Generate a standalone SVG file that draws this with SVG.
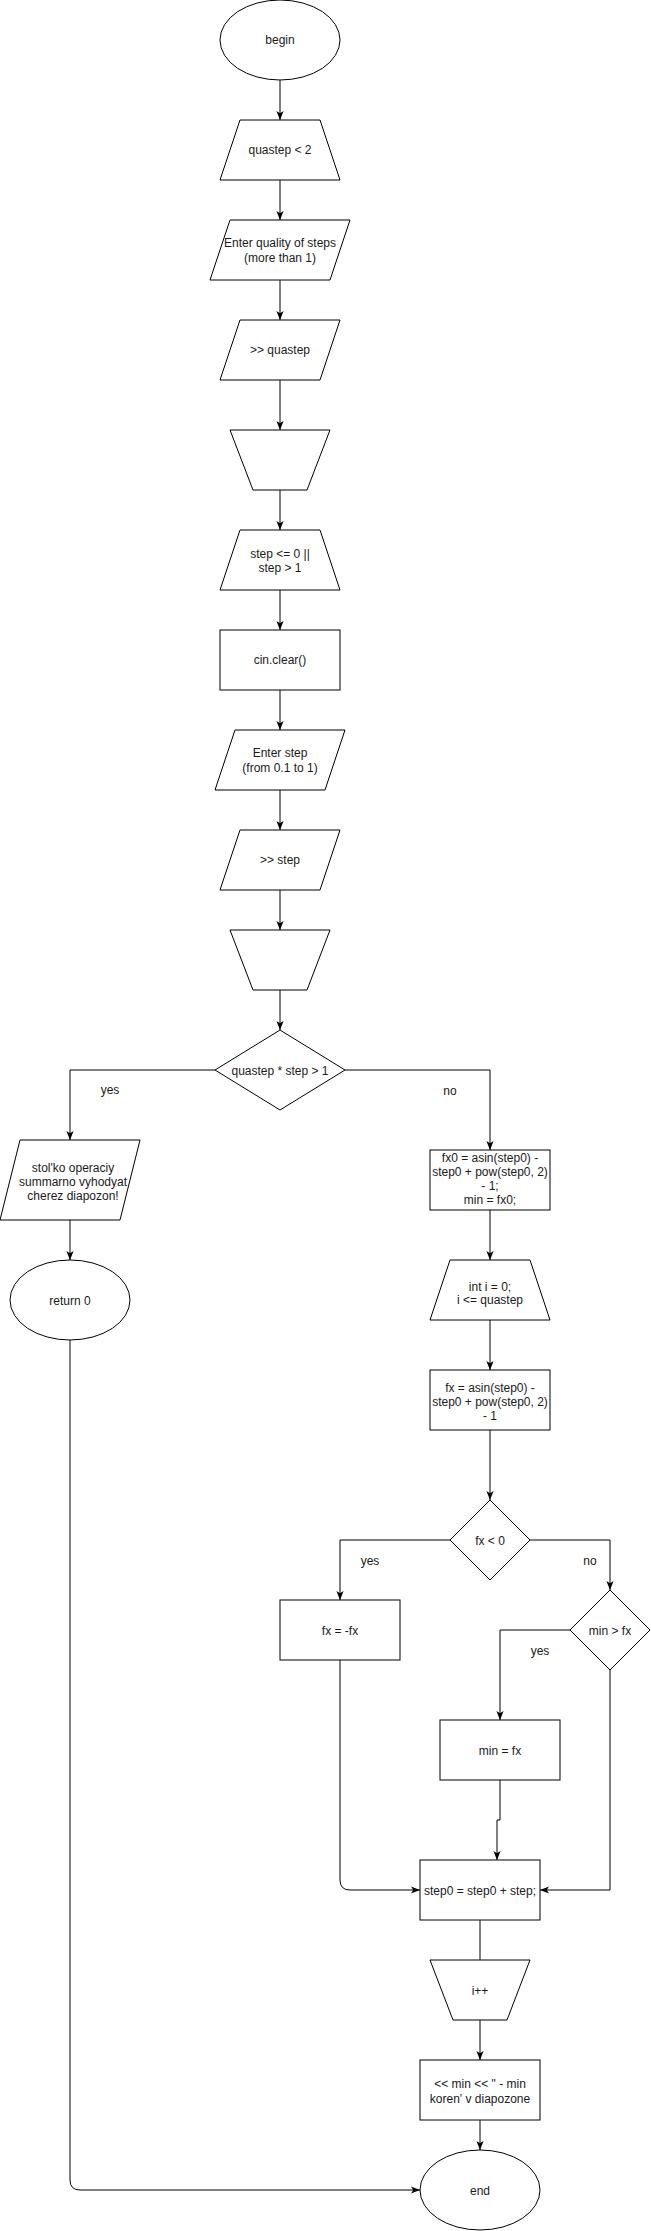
<svg xmlns="http://www.w3.org/2000/svg" width="651" height="2231" viewBox="0 0 651 2231">
<style>
.s{fill:#fff;stroke:#000;stroke-width:1}
.t{font-family:"Liberation Sans",Arial,sans-serif;font-size:12px;fill:#1a1a1a;text-anchor:middle}
.e{fill:none;stroke:#000;stroke-width:1}
</style>
<defs>
<marker id="a" markerUnits="userSpaceOnUse" viewBox="0 0 10 10" markerWidth="9" markerHeight="9" refX="10" refY="5" orient="auto">
<path d="M0,1 L10,5 L0,9 L2.5,5 Z" fill="#000"/>
</marker>
</defs>
<rect width="651" height="2231" fill="#fff"/>
<g id="connectors">
<path class="e" d="M280,80V120" marker-end="url(#a)"/>
<path class="e" d="M280,180V220" marker-end="url(#a)"/>
<path class="e" d="M280,280V320" marker-end="url(#a)"/>
<path class="e" d="M280,380V430" marker-end="url(#a)"/>
<path class="e" d="M280,490V530" marker-end="url(#a)"/>
<path class="e" d="M280,590V630" marker-end="url(#a)"/>
<path class="e" d="M280,690V730" marker-end="url(#a)"/>
<path class="e" d="M280,790V830" marker-end="url(#a)"/>
<path class="e" d="M280,890V930" marker-end="url(#a)"/>
<path class="e" d="M280,990V1030" marker-end="url(#a)"/>
<path class="e" d="M215,1070H70V1140" marker-end="url(#a)"/>
<path class="e" d="M345,1070H490V1150" marker-end="url(#a)"/>
<path class="e" d="M70,1220V1260" marker-end="url(#a)"/>
<path class="e" d="M70,1340V2180Q70,2190 80,2190H420" marker-end="url(#a)"/>
<path class="e" d="M490,1210V1260" marker-end="url(#a)"/>
<path class="e" d="M490,1320V1370" marker-end="url(#a)"/>
<path class="e" d="M490,1430V1500" marker-end="url(#a)"/>
<path class="e" d="M450,1540H340V1600" marker-end="url(#a)"/>
<path class="e" d="M530,1540H610V1590" marker-end="url(#a)"/>
<path class="e" d="M570,1630H500V1720" marker-end="url(#a)"/>
<path class="e" d="M340,1660V1880Q340,1890 350,1890H420" marker-end="url(#a)"/>
<path class="e" d="M500,1780V1820H497V1860" marker-end="url(#a)"/>
<path class="e" d="M610,1670V1890H540" marker-end="url(#a)"/>
<path class="e" d="M480,1920V1960"/>
<path class="e" d="M480,2020V2060" marker-end="url(#a)"/>
<path class="e" d="M480,2120V2150" marker-end="url(#a)"/>
<text class="t" x="110" y="1094">yes</text>
<text class="t" x="450" y="1095">no</text>
<text class="t" x="370" y="1565">yes</text>
<text class="t" x="590" y="1565">no</text>
<text class="t" x="540" y="1655">yes</text>
</g>
<g id="begin"><ellipse class="s" cx="280" cy="40" rx="60" ry="40"/><text class="t" x="280" y="44">begin</text></g>
<g id="loop1"><polygon class="s" points="240,120 320,120 340,180 220,180"/><text class="t" x="280" y="154">quastep &lt; 2</text></g>
<g id="prompt1"><polygon class="s" points="230,220 350,220 330,280 210,280"/><text class="t" x="280" y="247">Enter quality of steps</text><text class="t" x="280" y="262">(more than 1)</text></g>
<g id="input1"><polygon class="s" points="240,320 340,320 320,380 220,380"/><text class="t" x="280" y="354">&gt;&gt; quastep</text></g>
<g id="loopend1"><polygon class="s" points="230,430 330,430 307,490 253,490"/></g>
<g id="loop2"><polygon class="s" points="240,530 320,530 340,590 220,590"/><text class="t" x="280" y="558">step &lt;= 0 ||</text><text class="t" x="280" y="572">step &gt; 1</text></g>
<g id="clear"><rect class="s" x="220" y="630" width="120" height="60"/><text class="t" x="280" y="664">cin.clear()</text></g>
<g id="prompt2"><polygon class="s" points="235,730 345,730 325,790 215,790"/><text class="t" x="280" y="757">Enter step</text><text class="t" x="280" y="772">(from 0.1 to 1)</text></g>
<g id="input2"><polygon class="s" points="240,830 340,830 320,890 220,890"/><text class="t" x="280" y="864">&gt;&gt; step</text></g>
<g id="loopend2"><polygon class="s" points="230,930 330,930 307,990 253,990"/></g>
<g id="check"><polygon class="s" points="280,1030 345,1070 280,1110 215,1070"/><text class="t" x="280" y="1075">quastep * step &gt; 1</text></g>
<g id="error"><polygon class="s" points="20,1140 140,1140 120,1220 0,1220"/><text class="t" x="73" y="1172">stol'ko operaciy</text><text class="t" x="73" y="1186">summarno vyhodyat</text><text class="t" x="73" y="1200">cherez diapozon!</text></g>
<g id="return0"><ellipse class="s" cx="70" cy="1300" rx="60" ry="40"/><text class="t" x="70" y="1305">return 0</text></g>
<g id="init"><rect class="s" x="430" y="1150" width="120" height="60"/><text class="t" x="490" y="1162">fx0 = asin(step0) -</text><text class="t" x="490" y="1176">step0 + pow(step0, 2)</text><text class="t" x="490" y="1190">- 1;</text><text class="t" x="490" y="1204">min = fx0;</text></g>
<g id="forloop"><polygon class="s" points="450,1260 530,1260 550,1320 430,1320"/><text class="t" x="490" y="1291">int i = 0;</text><text class="t" x="490" y="1304">i &lt;= quastep</text></g>
<g id="calc"><rect class="s" x="430" y="1370" width="120" height="60"/><text class="t" x="490" y="1392">fx = asin(step0) -</text><text class="t" x="490" y="1406">step0 + pow(step0, 2)</text><text class="t" x="490" y="1420">- 1</text></g>
<g id="neg"><polygon class="s" points="490,1500 530,1540 490,1580 450,1540"/><text class="t" x="490" y="1545">fx &lt; 0</text></g>
<g id="abs"><rect class="s" x="280" y="1600" width="120" height="60"/><text class="t" x="340" y="1635">fx = -fx</text></g>
<g id="cmp"><polygon class="s" points="610,1590 650,1630 610,1670 570,1630"/><text class="t" x="610" y="1635">min &gt; fx</text></g>
<g id="setmin"><rect class="s" x="440" y="1720" width="120" height="60"/><text class="t" x="500" y="1755">min = fx</text></g>
<g id="inc"><rect class="s" x="420" y="1860" width="120" height="60"/><text class="t" x="480" y="1895">step0 = step0 + step;</text></g>
<g id="loopend3"><polygon class="s" points="430,1960 530,1960 507,2020 453,2020"/><text class="t" x="480" y="1995">i++</text></g>
<g id="output"><rect class="s" x="420" y="2060" width="120" height="60"/><text class="t" x="480" y="2088">&lt;&lt; min &lt;&lt; " - min</text><text class="t" x="480" y="2103">koren' v diapozone</text></g>
<g id="end"><ellipse class="s" cx="480" cy="2190" rx="60" ry="40"/><text class="t" x="480" y="2195">end</text></g>
</svg>
